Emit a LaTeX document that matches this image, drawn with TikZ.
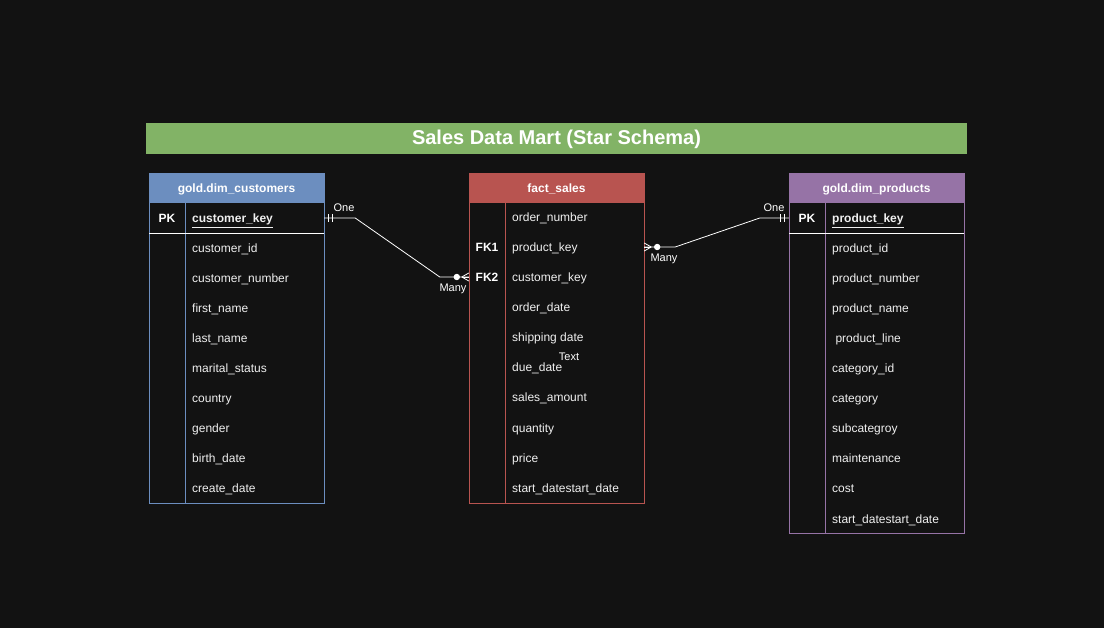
\documentclass[tikz,border=0pt]{standalone}
\usepackage{fontspec}
\setmainfont{Liberation Sans}
\usetikzlibrary{positioning,calc}

\definecolor{bgdark}{HTML}{121212}
\definecolor{titlegreen}{HTML}{82B366}
\definecolor{custblue}{HTML}{6C8EBF}
\definecolor{factred}{HTML}{B85450}
\definecolor{prodpurple}{HTML}{9673A6}
\definecolor{fieldgray}{HTML}{F0F0F0}

\begin{document}
\begin{tikzpicture}[x=1pt,y=-1pt,
    field/.style={anchor=west,text=fieldgray,inner sep=0pt,text height=11pt,text depth=1pt,font=\fontsize{12}{14}\selectfont},
    keyfield/.style={field,font=\bfseries\fontsize{12}{14}\selectfont},
    keytag/.style={text=white,inner sep=0pt,text height=11pt,text depth=1pt,font=\bfseries\fontsize{12}{14}\selectfont},
    head/.style={text=white,inner sep=0pt,text height=11pt,text depth=1pt,font=\bfseries\fontsize{12}{14}\selectfont},
    rowbox/.style={minimum width=175pt,minimum height=30pt,inner sep=0pt},
    card/.style={text=white,inner sep=0pt,text height=9pt,text depth=2pt,font=\fontsize{11}{13}\selectfont},
    rel/.style={draw=white,line width=0.8pt}]
    \fill[bgdark] (0,0) rectangle (1104,628);
    \useasboundingbox (0,0) rectangle (1104,628);

    % title bar
    \fill[titlegreen] (146,123) rectangle (967,154);
    \node[text=white,inner sep=0pt,text height=15pt,text depth=4pt,font=\bfseries\fontsize{20}{24}\selectfont] (title) at (556.5,139) {Sales Data Mart (Star Schema)};

    % gold.dim_customers
    \fill[custblue] (149,173) rectangle (324,203);
    \draw[custblue] (149,173) rectangle (324,503);
    \draw[custblue] (185,203) -- (185,503);
    \draw[white] (149,233) -- (324,233);
    \node[head] (cust) at (236.5,188) {gold.dim\_customers};
    \node[rowbox] (ckeyrow) at (236.5,218) {};
    \node[keytag] (cpk) at (167,218) {PK};
    \node[keyfield] (ckey) at (192,218) {\underline{customer\_key}};
    \foreach \f [count=\i] in {customer\_id,customer\_number,first\_name,last\_name,marital\_status,country,gender,birth\_date,create\_date}
        \node[field] (c\i) at (192,218+30*\i) {\f};

    % fact_sales
    \fill[factred] (469,173) rectangle (644,203);
    \draw[factred] (469,173) rectangle (644,503);
    \draw[factred] (505,203) -- (505,503);
    \node[head] (fact) at (556.5,188) {fact\_sales};
    \node[rowbox] (fpkrow) at (556.5,247) {};
    \node[rowbox] (fckrow) at (556.5,277) {};
    \node[keytag] (fk1) at (487,247) {FK1};
    \node[keytag] (fk2) at (487,277) {FK2};
    \foreach \f [count=\i from 0] in {order\_number,product\_key,customer\_key,order\_date,shipping date,due\_date,sales\_amount,quantity,price,start\_datestart\_date}
        \node[field] (f\i) at (512,217+30*\i) {\f};
    \node[card] (textlbl) at (569,357) {Text};

    % gold.dim_products
    \fill[prodpurple] (789,173) rectangle (964,203);
    \draw[prodpurple] (789,173) rectangle (964,533);
    \draw[prodpurple] (825,203) -- (825,533);
    \draw[white] (789,233) -- (964,233);
    \node[head] (prod) at (876.5,188) {gold.dim\_products};
    \node[rowbox] (pkeyrow) at (876.5,218) {};
    \node[keytag] (ppk) at (807,218) {PK};
    \node[keyfield] (pkey) at (832,218) {\underline{product\_key}};
    \foreach \f [count=\i] in {product\_id,product\_number,product\_name,\ product\_line,category\_id,category,subcategroy,maintenance,cost,start\_datestart\_date}
        \node[field] (p\i) at (832,218+30*\i) {\f};

    % customers -- fact
    \draw[rel] (ckeyrow.east) -- ++(31,0) -- ($(fckrow.west)+(-29,0)$) -- (fckrow.west);
    \draw[rel] ($(ckeyrow.east)+(4,-4)$) -- ++(0,8);
    \draw[rel] ($(ckeyrow.east)+(8,-4)$) -- ++(0,8);
    \fill[white] ($(fckrow.west)+(-12,0)$) circle (3.2);
    \foreach \d in {-4,0,4}
        \draw[rel] ($(fckrow.west)+(-7,0)$) -- ($(fckrow.west)+(0,\d)$);
    \node[card] (one1) at (344,208) {One};
    \node[card] (many1) at (453,288) {Many};

    % fact -- products
    \draw[rel] (fpkrow.east) -- ++(31,0) -- ($(pkeyrow.west)+(-29,0)$) -- (pkeyrow.west);
    \draw[rel] ($(pkeyrow.west)+(-4,-4)$) -- ++(0,8);
    \draw[rel] ($(pkeyrow.west)+(-8,-4)$) -- ++(0,8);
    \fill[white] ($(fpkrow.east)+(13,0)$) circle (3.2);
    \foreach \d in {-4,0,4}
        \draw[rel] ($(fpkrow.east)+(7,0)$) -- ($(fpkrow.east)+(0,\d)$);
    \node[card] (one2) at (774,208) {One};
    \node[card] (many2) at (664,258) {Many};
\end{tikzpicture}
\end{document}
